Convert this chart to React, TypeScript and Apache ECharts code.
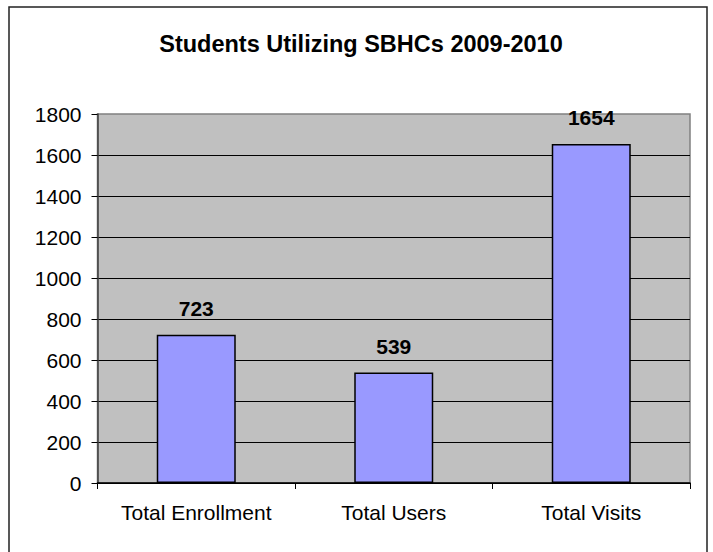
import React, { useEffect, useRef } from "react";
import * as echarts from "echarts";

const titleText = "Students Utilizing SBHCs 2009-2010";
const categories = ["Total Enrollment", "Total Users", "Total Visits"];
const values = [723, 539, 1654];
const yMin = 0;
const yMax = 1800;
const yInterval = 200;

const FONT = "'Liberation Sans', Arial, sans-serif";

export default function App() {
  const ref = useRef<HTMLDivElement>(null);
  useEffect(() => {
    if (!ref.current) return;
    const chart = echarts.init(ref.current, null, { renderer: "svg" });
    chart.setOption({
      animation: false,
      backgroundColor: "#ffffff",
      title: {
        text: titleText,
        left: 356,
        top: 27,
        textAlign: "center",
        textStyle: { fontFamily: FONT, fontSize: 23.5, fontWeight: "bold", color: "#000" },
      },
      graphic: [
        {
          type: "rect",
          shape: { x: 9, y: 7, width: 698, height: 560 },
          style: { fill: "none", stroke: "#222", lineWidth: 1.5 },
          silent: true,
          z: 100,
        },
      ],
      grid: {
        left: 97.5,
        right: 23,
        top: 114,
        bottom: 69,
        show: true,
        backgroundColor: "#C0C0C0",
        borderColor: "#808080",
        borderWidth: 1.5,
        containLabel: false,
      },
      xAxis: {
        type: "category",
        data: categories,
        axisLine: { show: true, lineStyle: { color: "#000", width: 1.5 } },
        axisTick: { show: true, length: 6, interval: 0, alignWithLabel: false, lineStyle: { color: "#000" } },
        axisLabel: { fontFamily: FONT, fontSize: 21, color: "#000", margin: 19, interval: 0 },
        splitLine: { show: false },
      },
      yAxis: {
        type: "value",
        min: yMin,
        max: yMax,
        interval: yInterval,
        axisLine: { show: true, lineStyle: { color: "#404040", width: 1.5 } },
        axisTick: { show: true, length: 6, inside: false, lineStyle: { color: "#000" } },
        axisLabel: {
          fontFamily: FONT,
          fontSize: 21,
          color: "#000",
          margin: 16,
          formatter: (v: number) => String(v),
        },
        splitLine: { show: true, showMaxLine: false, lineStyle: { color: "#000", width: 1 } },
      },
      series: [
        {
          type: "bar",
          data: values,
          barWidth: "40%",
          itemStyle: { color: "#9999FF", borderColor: "#000", borderWidth: 1.5 },
          label: {
            show: true,
            position: "top",
            distance: 16,
            fontFamily: FONT,
            fontSize: 21,
            fontWeight: "bold",
            color: "#000",
          },
        },
      ],
    });
    return () => chart.dispose();
  }, []);
  return (
    <div
      ref={ref}
      style={{ position: "absolute", left: 0, top: 0, width: 713, height: 552 }}
    />
  );
}
